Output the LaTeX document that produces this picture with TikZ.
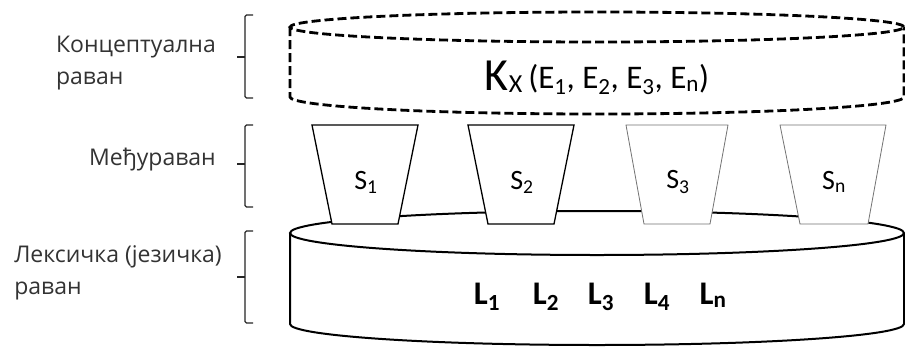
\documentclass[tikz,border=0pt]{standalone}
\usepackage{fontspec}
\setmainfont{Carlito}
\newfontfamily\labelfont{Open Sans}
\begin{document}
\begin{tikzpicture}[x=1pt,y=-1pt,
  solidcyl/.style={draw=black,line width=2pt,fill=white},
  dashcyl/.style={draw=black,line width=2.8pt,dash pattern=on 9pt off 4pt,fill=white},
  trapdark/.style={draw=black,line width=1.3pt,fill=white},
  traplight/.style={draw=black!55,line width=0.8pt,fill=white},
  bracket/.style={draw=black!85,line width=1.2pt,rounded corners=1.5pt},
  sidelabel/.style={font=\labelfont\fontsize{23}{32}\selectfont,align=left,inner sep=0pt,text=black!80},
  slabel/.style={font=\fontsize{28}{28}\selectfont,inner sep=0pt},
  llabel/.style={font=\bfseries\fontsize{33}{33}\selectfont,inner sep=0pt,anchor=base}
]
\useasboundingbox[fill=white] (0,0) rectangle (905,346);

% --- lexical plane: bottom cylinder
\path[solidcyl] (290,233) -- (290,324) arc[start angle=180,end angle=360,x radius=307pt,y radius=21pt] -- (904,233);
\draw[solidcyl] (597,233) ellipse [x radius=307pt,y radius=22pt];
\node[llabel] (l1) at (487,304) {L\textsubscript{1}};
\node[llabel] (l2) at (546,304) {L\textsubscript{2}};
\node[llabel] (l3) at (601,304) {L\textsubscript{3}};
\node[llabel] (l4) at (657,304) {L\textsubscript{4}};
\node[llabel] (ln) at (713,304) {L\textsubscript{n}};

% --- intermediate plane: trapezoids
\path[trapdark]  (312,125) -- (418,125) -- (398,224) -- (332,224) -- cycle;
\path[trapdark]  (468,125) -- (574,125) -- (554,224) -- (488,224) -- cycle;
\path[traplight] (626,125) -- (728,125) -- (710,224) -- (644,224) -- cycle;
\path[traplight] (780,125) -- (886,125) -- (868,224) -- (800,224) -- cycle;
\node[slabel] (s1) at (366,182) {S\textsubscript{1}};
\node[slabel] (s2) at (522,182) {S\textsubscript{2}};
\node[slabel] (s3) at (678,182) {S\textsubscript{3}};
\node[slabel] (sn) at (834,182) {S\textsubscript{n}};

% --- conceptual plane: dashed cylinder
\path[dashcyl] (290,27) -- (290,97) arc[start angle=180,end angle=360,x radius=307pt,y radius=17pt] -- (904,27);
\draw[dashcyl] (597,27) ellipse [x radius=307pt,y radius=15pt];
\node[anchor=base,inner sep=0pt] (kx) at (597,90)
  {{\fontsize{46}{46}\selectfont K}\raisebox{-2pt}{\fontsize{26}{26}\selectfont X}\hspace{6pt}\raisebox{2pt}{\fontsize{33}{33}\selectfont (E\textsubscript{1}, E\textsubscript{2}, E\textsubscript{3}, E\textsubscript{n})}};

% --- brackets
\draw[bracket] (253,15) -- (245,15) -- (245,98) -- (253,98);
\draw[bracket] (245,57) -- (237,57);
\draw[bracket] (253,125) -- (245,125) -- (245,207) -- (253,207);
\draw[bracket] (245,164) -- (237,164);
\draw[bracket] (253,231) -- (245,231) -- (245,323) -- (253,323);
\draw[bracket] (245,277) -- (237,277);

% --- side labels
\node[sidelabel,anchor=north east] (lab1) at (216,36) {Концептуална\\раван};
\node[sidelabel,anchor=east] (lab2) at (216,160) {Међураван};
\node[sidelabel,anchor=north east] (lab3) at (222,245) {Лексичка (језичка)\\раван};
\end{tikzpicture}
\end{document}
